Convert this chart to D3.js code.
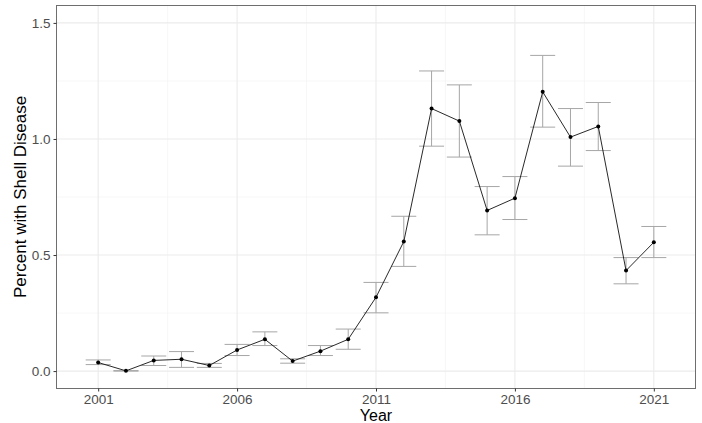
<!DOCTYPE html>
<html>
<head>
<meta charset="utf-8">
<script src="https://cdn.jsdelivr.net/npm/d3@7"></script>
<style>
  html, body { margin: 0; padding: 0; background: #fff; }
  svg { display: block; font-family: "Liberation Sans", Arial, sans-serif; }
</style>
</head>
<body>
<svg id="chart" width="702" height="423"></svg>
<script>
// Annual shell disease prevalence with upper/lower interval bounds
const years = [2001, 2002, 2003, 2004, 2005, 2006, 2007, 2008, 2009, 2010, 2011,
               2012, 2013, 2014, 2015, 2016, 2017, 2018, 2019, 2020, 2021];
const percent = [0.037, 0.001, 0.046, 0.051, 0.024, 0.091, 0.137, 0.043, 0.086, 0.137, 0.318,
                 0.558, 1.131, 1.077, 0.692, 0.745, 1.203, 1.008, 1.054, 0.433, 0.555];
const upper = [0.048, 0.002, 0.065, 0.084, 0.033, 0.115, 0.169, 0.053, 0.110, 0.181, 0.382,
               0.667, 1.293, 1.233, 0.795, 0.838, 1.360, 1.131, 1.157, 0.489, 0.623];
const lower = [0.028, 0.000, 0.024, 0.016, 0.016, 0.067, 0.110, 0.034, 0.067, 0.094, 0.251,
               0.451, 0.969, 0.922, 0.587, 0.653, 1.051, 0.883, 0.950, 0.376, 0.489];
const xTicks = [2001, 2006, 2011, 2016, 2021];
const xMinor = [2003.5, 2008.5, 2013.5, 2018.5];
const yTicks = [0, 0.5, 1.0, 1.5];
const yMinor = [0.25, 0.75, 1.25];

const data = years.map((y, i) => ({ year: y, pct: percent[i], hi: upper[i], lo: lower[i] }));

const panel = { left: 56.5, right: 695.5, top: 5.5, bottom: 388.5 };
const capHalf = 0.45;

const svg = d3.select("#chart");

const x = d3.scaleLinear()
  .domain([1999.5, 2022.5])
  .range([panel.left, panel.right]);
const y = d3.scaleLinear()
  .domain([-0.075, 1.575])
  .range([panel.bottom, panel.top]);

// grid
const grid = svg.append("g");
grid.selectAll(".ymin").data(yMinor).join("line")
  .attr("x1", panel.left).attr("x2", panel.right)
  .attr("y1", d => y(d)).attr("y2", d => y(d))
  .attr("stroke", "#f2f2f2").attr("stroke-width", 0.6);
grid.selectAll(".xmin").data(xMinor).join("line")
  .attr("y1", panel.top).attr("y2", panel.bottom)
  .attr("x1", d => x(d)).attr("x2", d => x(d))
  .attr("stroke", "#f2f2f2").attr("stroke-width", 0.6);
grid.selectAll(".ymaj").data(yTicks).join("line")
  .attr("x1", panel.left).attr("x2", panel.right)
  .attr("y1", d => y(d)).attr("y2", d => y(d))
  .attr("stroke", "#ebebeb").attr("stroke-width", 1.1);
grid.selectAll(".xmaj").data(xTicks).join("line")
  .attr("y1", panel.top).attr("y2", panel.bottom)
  .attr("x1", d => x(d)).attr("x2", d => x(d))
  .attr("stroke", "#ebebeb").attr("stroke-width", 1.1);

// error bars
const eb = svg.append("g").attr("stroke", "#a6a6a6").attr("stroke-width", 1).attr("fill", "none");
eb.selectAll(".v").data(data).join("line")
  .attr("x1", d => x(d.year)).attr("x2", d => x(d.year))
  .attr("y1", d => y(d.lo)).attr("y2", d => y(d.hi));
eb.selectAll(".t").data(data).join("line")
  .attr("x1", d => x(d.year - capHalf)).attr("x2", d => x(d.year + capHalf))
  .attr("y1", d => y(d.hi)).attr("y2", d => y(d.hi));
eb.selectAll(".b").data(data).join("line")
  .attr("x1", d => x(d.year - capHalf)).attr("x2", d => x(d.year + capHalf))
  .attr("y1", d => y(d.lo)).attr("y2", d => y(d.lo));

// series line and points
svg.append("path").datum(data)
  .attr("fill", "none").attr("stroke", "#111").attr("stroke-width", 0.9)
  .attr("d", d3.line().x(d => x(d.year)).y(d => y(d.pct)));
svg.append("g").selectAll("circle").data(data).join("circle")
  .attr("cx", d => x(d.year)).attr("cy", d => y(d.pct)).attr("r", 2)
  .attr("fill", "#000");

// panel border
svg.append("rect")
  .attr("x", panel.left).attr("y", panel.top)
  .attr("width", panel.right - panel.left).attr("height", panel.bottom - panel.top)
  .attr("fill", "none").attr("stroke", "#6e6e6e").attr("stroke-width", 1);

// axes
const xAxis = svg.append("g").attr("transform", `translate(0,${panel.bottom})`)
  .call(d3.axisBottom(x).tickValues(xTicks).tickFormat(d3.format("d")).tickSize(3).tickPadding(3));
const yAxis = svg.append("g").attr("transform", `translate(${panel.left},0)`)
  .call(d3.axisLeft(y).tickValues(yTicks).tickFormat(d3.format(".1f")).tickSize(3).tickPadding(3));
[xAxis, yAxis].forEach(a => {
  a.select(".domain").remove();
  a.selectAll(".tick line").attr("stroke", "#333");
  a.selectAll(".tick text").attr("fill", "#4d4d4d")
    .style("font-size", "13.5px").style("font-family", "'Liberation Sans', Arial, sans-serif");
});

// axis titles
svg.append("text")
  .attr("x", (panel.left + panel.right) / 2).attr("y", 420.5)
  .attr("text-anchor", "middle").attr("fill", "#000")
  .style("font-size", "16px").text("Year");
svg.append("text")
  .attr("transform", `translate(26,${(panel.top + panel.bottom) / 2}) rotate(-90)`)
  .attr("text-anchor", "middle").attr("fill", "#000")
  .style("font-size", "17px").text("Percent with Shell Disease");
</script>
</body>
</html>
